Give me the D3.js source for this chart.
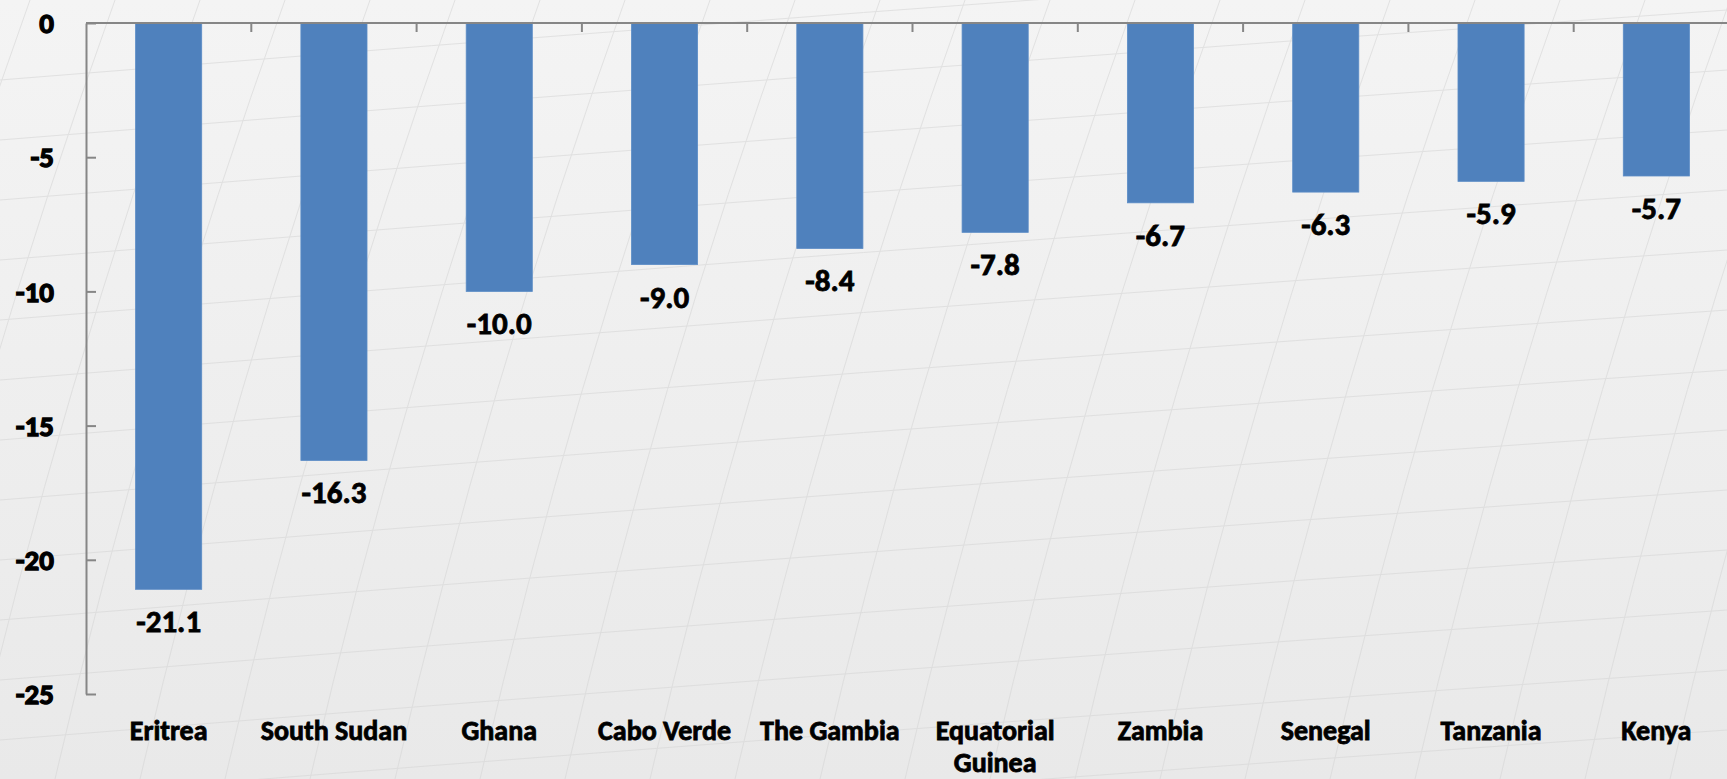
<!DOCTYPE html>
<html>
<head>
<meta charset="utf-8">
<script src="https://cdn.jsdelivr.net/npm/d3@7"></script>
<style>
	html, body { margin: 0; padding: 0; overflow: hidden; }
	body { width: 1727px; height: 779px; }
	.lbl { font-family: Carlito, "Liberation Sans Narrow", "DejaVu Sans Condensed", "Open Sans", sans-serif; font-weight: bold; fill: #000; stroke: #000; stroke-width: 0.8px; }
	.ytk { stroke-width: 1.3px; }
</style>
</head>
<body>
<div id="chart"></div>
<script>

// data
var countries = ["Eritrea", "South Sudan", "Ghana", "Cabo Verde", "The Gambia", "Equatorial Guinea", "Zambia", "Senegal", "Tanzania", "Kenya"];
var values = [-21.1, -16.3, -10.0, -9.0, -8.4, -7.8, -6.7, -6.3, -5.9, -5.7];
var yTicks = [0, -5, -10, -15, -20, -25];

var W = 1727, H = 779;
var margin = { top: 23, left: 86 },
	bandW = 165.3,
	plotH = 671;

var svg = d3.select("#chart").append("svg")
	.attr("width", W)
	.attr("height", H);

// background, light grey with faint sketch lines
var defs = svg.append("defs");
var grad = defs.append("linearGradient").attr("id", "bg")
	.attr("x1", 0).attr("y1", 0).attr("x2", 0).attr("y2", 1);
grad.append("stop").attr("offset", "0%").attr("stop-color", "#f4f4f4");
grad.append("stop").attr("offset", "100%").attr("stop-color", "#e9e9e9");
svg.append("rect").attr("width", W).attr("height", H).attr("fill", "url(#bg)");

var deco = svg.append("g").attr("stroke", "#d6d6d6").attr("stroke-width", 1).attr("fill", "none").attr("opacity", 0.6);
for (var i = 0; i < 24; i++) {
	var x0 = -200 + i * 85;
	deco.append("path").attr("d", "M" + x0 + "," + H + " Q" + (x0 + 90) + "," + (H / 2) + " " + (x0 + 230) + ",0");
}
for (var j = 0; j < 14; j++) {
	var y0 = 40 + j * 60;
	deco.append("path").attr("d", "M0," + (y0 + 40) + " Q" + (W / 2) + "," + (y0 - 30) + " " + W + "," + (y0 - 90));
}

// scales
var x = d3.scaleBand()
	.domain(countries)
	.range([margin.left, margin.left + bandW * countries.length])
	.paddingInner(0.6)
	.paddingOuter(0.3);

var y = d3.scaleLinear()
	.domain([0, -25])
	.range([margin.top, margin.top + plotH]);

var g = svg.append("g");

// bars
g.selectAll("rect.bar")
	.data(values).enter()
	.append("rect")
		.attr("class", "bar")
		.attr("x", function(d, i){ return x(countries[i]); })
		.attr("y", y(0))
		.attr("width", x.bandwidth())
		.attr("height", function(d){ return y(d) - y(0); })
		.attr("fill", "#4f81bd")
		.attr("stroke", "#5b8cc6")
		.attr("stroke-width", 0.8);

// value labels
g.selectAll("text.val")
	.data(values).enter()
	.append("text")
		.attr("class", "lbl val")
		.attr("x", function(d, i){ return x(countries[i]) + x.bandwidth() / 2; })
		.attr("y", function(d){ return y(d) + 43; })
		.attr("text-anchor", "middle")
		.style("font-size", "31px")
		.text(function(d){ return d.toFixed(1); });

// y axis (lines only, labels drawn below)
var yAxis = d3.axisLeft(y)
	.tickValues(yTicks)
	.tickSizeInner(-10)
	.tickSizeOuter(0)
	.tickFormat("");

var ya = svg.append("g")
	.attr("transform", "translate(" + margin.left + ",0)")
	.call(yAxis);
ya.select(".domain").attr("stroke", "#868686").attr("stroke-width", 2);
ya.selectAll(".tick line").attr("stroke", "#868686").attr("stroke-width", 2);

svg.append("g").selectAll("text.ytk")
	.data(yTicks).enter()
	.append("text")
		.attr("class", "lbl ytk")
		.attr("x", 54)
		.attr("y", function(d){ return y(d); })
		.attr("dy", "0.35em")
		.attr("text-anchor", "end")
		.style("font-size", "29px")
		.text(function(d){ return String(d); });

// x axis at zero, ticks between categories pointing down
var xa = svg.append("g").attr("transform", "translate(0," + y(0) + ")");
xa.append("line")
	.attr("x1", margin.left).attr("x2", W + 20)
	.attr("stroke", "#868686").attr("stroke-width", 2);
xa.selectAll("line.tk")
	.data(countries.slice(1)).enter()
	.append("line")
		.attr("class", "tk")
		.attr("x1", function(d){ return x(d) - x.step() * x.paddingInner() / 2; })
		.attr("x2", function(d){ return x(d) - x.step() * x.paddingInner() / 2; })
		.attr("y1", 0).attr("y2", 9)
		.attr("stroke", "#868686").attr("stroke-width", 2);

// category labels below the plot
var cl = svg.append("g").selectAll("text.cat")
	.data(countries).enter()
	.append("text")
		.attr("class", "lbl cat")
		.attr("x", function(d){ return x(d) + x.bandwidth() / 2; })
		.attr("y", 740)
		.attr("text-anchor", "middle")
		.style("font-size", "28px");

cl.each(function(d){
	var t = d3.select(this);
	if (d == "Equatorial Guinea") {
		t.append("tspan").attr("x", t.attr("x")).text("Equatorial");
		t.append("tspan").attr("x", t.attr("x")).attr("dy", 32).text("Guinea");
	} else {
		t.text(d);
	}
});

</script>
</body>
</html>
